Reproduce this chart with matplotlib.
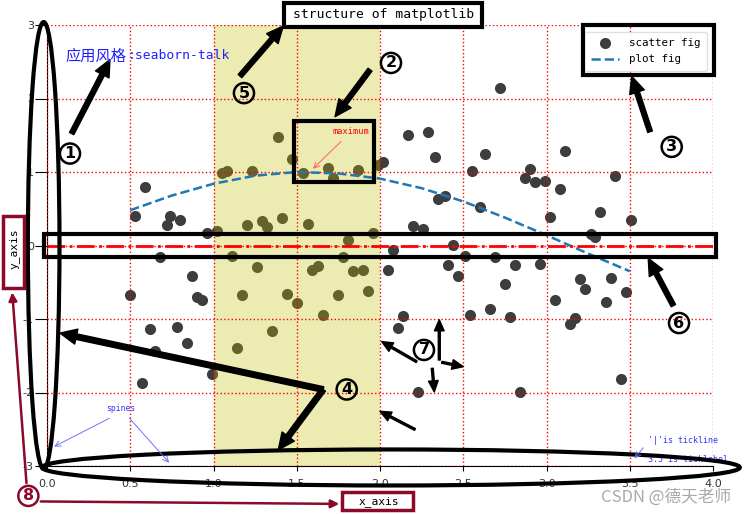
import matplotlib
matplotlib.use('Agg')
import matplotlib.pyplot as plt
from matplotlib.patches import Ellipse, Rectangle

# ---------------- data ----------------
scatter_x = [0.59, 0.53, 0.74, 0.72, 0.80, 0.96, 1.02, 1.05, 1.08, 1.23, 1.39, 1.47, 1.20, 1.29,
             1.32, 1.41, 0.68, 0.87, 0.50, 0.90, 0.93, 1.11, 1.26, 1.17, 1.44, 1.50, 0.62, 0.78,
             0.84, 0.65, 1.35, 1.14, 0.99, 0.57,
             1.54, 1.69, 1.72, 1.87, 1.99, 2.02, 2.17, 2.29, 2.33, 2.35, 2.39, 2.55, 1.57, 1.81,
             1.96, 1.78, 2.08, 2.20, 2.26, 2.44, 2.51, 2.41, 2.47, 1.59, 1.63, 1.84, 1.90, 2.05,
             1.75, 1.93, 1.66, 2.14, 2.11, 2.54, 2.23,
             2.72, 2.63, 2.90, 2.87, 2.93, 2.99, 3.11, 3.08, 3.41, 2.60, 3.02, 3.32, 3.51, 3.27,
             3.29, 2.69, 2.81, 2.96, 2.75, 3.20, 3.23, 3.39, 3.48, 3.05, 3.36, 2.66, 2.78, 3.17,
             3.14, 3.45, 2.84]
scatter_y = [0.79, 0.40, 0.40, 0.28, 0.35, 0.17, 0.20, 0.98, 1.02, 1.01, 1.48, 1.18, 0.28, 0.33,
             0.25, 0.37, -0.16, -0.42, -0.68, -0.70, -0.74, -0.14, -0.29, -0.68, -0.66, -0.78, -1.13, -1.11,
             -1.32, -1.43, -1.17, -1.39, -1.75, -1.87,
             0.98, 1.05, 0.92, 1.03, 1.09, 1.14, 1.51, 1.55, 1.21, 0.63, 0.68, 1.01, 0.29, 0.07,
             0.17, -0.15, -0.06, 0.27, 0.23, 0.01, -0.14, -0.26, -0.42, -0.33, -0.28, -0.35, -0.34, -0.34,
             -0.67, -0.62, -0.94, -0.96, -1.12, -0.94, -1.99,
             2.14, 1.24, 1.04, 0.92, 0.87, 0.88, 1.28, 0.77, 0.95, 0.52, 0.39, 0.46, 0.35, 0.15,
             0.12, -0.16, -0.27, -0.25, -0.52, -0.45, -0.59, -0.44, -0.63, -0.74, -0.77, -0.86, -0.97, -0.99,
             -1.07, -1.81, -1.99]

curve_x = [0.50, 0.75, 1.00, 1.25, 1.50, 1.75, 2.00, 2.25, 2.50, 2.75, 3.00, 3.25, 3.50]
curve_y = [0.48, 0.68, 0.84, 0.95, 1.00, 0.98, 0.91, 0.78, 0.60, 0.38, 0.14, -0.11, -0.35]

x_ticks = [0.0, 0.5, 1.0, 1.5, 2.0, 2.5, 3.0, 3.5, 4.0]
x_tick_labels = ['0.0', '0.5', '1.0', '1.5', '2.0', '2.5', '3.0', '3.5', '4.0']
y_ticks = [-3, -2, -1, 0, 1, 2, 3]
y_tick_labels = ['-3', '-2', '-1', '0', '1', '2', '3']
legend_labels = ['scatter fig', 'plot fig']
title_text = 'structure of matplotlib'
x_label = 'x_axis'
y_label = 'y_axis'

MONO = ['DejaVu Sans Mono', 'Noto Sans CJK SC']
CJK = ['Noto Sans CJK SC', 'DejaVu Sans']
MAROON = '#8b0a2a'
plt.rcParams['font.family'] = ['DejaVu Sans', 'Noto Sans CJK SC']

fig = plt.figure(figsize=(7.46, 5.14), dpi=100)
ax = fig.add_axes([47 / 746, 48 / 514, 666 / 746, 441 / 514])
ax.set_xlim(0, 4)
ax.set_ylim(-3, 3)

ax.scatter(scatter_x, scatter_y, s=64, color='#3d3d3d', linewidths=0, zorder=2,
           label=legend_labels[0])
ax.axvspan(1, 2, color='y', alpha=0.3, lw=0, zorder=2.2)
ax.plot(curve_x, curve_y, ls='--', color='#1f77b4', lw=1.8, zorder=3, label=legend_labels[1])
ax.axhline(0, color='red', ls='-.', lw=2, zorder=3)

ax.grid(True, color='red', ls=':', lw=1)
ax.set_axisbelow(False)
for s in ['top', 'right']:
    ax.spines[s].set_visible(False)
ax.set_xticks(x_ticks)
ax.set_xticklabels(x_tick_labels)
ax.set_yticks(y_ticks)
ax.set_yticklabels(y_tick_labels)
ax.tick_params(axis='x', length=3.5, pad=6, labelsize=8, labelcolor='#333333')
ax.tick_params(axis='y', length=8.5, pad=1, labelsize=8, labelcolor='#333333')

leg = ax.legend(loc='upper right', prop={'family': 'DejaVu Sans Mono', 'size': 7.8},
                borderaxespad=0.6, borderpad=0.6, handlelength=2.6, handletextpad=0.9,
                labelspacing=0.6, framealpha=0.9, edgecolor='#dddddd')
leg.set_zorder(8)

# ---------------- annotations ----------------
def rect(x0, y0, x1, y1, color='black', lw=3):
    ax.add_patch(Rectangle((x0, y0), x1 - x0, y1 - y0, fill=False, ec=color, lw=lw,
                           clip_on=False, zorder=10))

def circ_num(x, y, s, color='black'):
    ax.text(x, y, s, ha='center', va='center', fontsize=11.5, fontweight='bold', color=color,
            bbox=dict(boxstyle='circle,pad=0.16', fc='none', ec=color, lw=1.8),
            zorder=12, clip_on=False)

def arrow(tail, tip, w=3.5, hw=11, hl=12, color='black'):
    ax.annotate('', xy=tip, xytext=tail,
                arrowprops=dict(facecolor=color, edgecolor=color, width=w, headwidth=hw,
                                headlength=hl, shrink=0),
                annotation_clip=False, zorder=11)

def thin(tail, tip, color, lw=0.7):
    ax.annotate('', xy=tip, xytext=tail,
                arrowprops=dict(arrowstyle='->', color=color, lw=lw),
                annotation_clip=False, zorder=11)

# title box
rect(1.425, 2.973, 2.614, 3.305)
ax.text(2.020, 3.141, title_text, ha='center', va='center', family=MONO, fontsize=9.4,
        clip_on=False, zorder=12)

# style text
ax.text(0.108, 2.581, '应用风格', ha='left', va='center', family=CJK, fontsize=11,
        color='#2020ff', zorder=12)
ax.text(0.483, 2.581, ':seaborn-talk', ha='left', va='center', family=MONO, fontsize=9.4,
        color='#2020ff', zorder=12)

# ellipses
ax.add_patch(Ellipse((-0.02, 0.0), 0.19, 6.08, fill=False, ec='black', lw=3,
                     clip_on=False, zorder=10))
ax.add_patch(Ellipse((2.066, -3.02), 4.19, 0.49, fill=False, ec='black', lw=3,
                     clip_on=False, zorder=10))

# boxes
rect(1.483, 0.868, 1.964, 1.688)          # maximum box
rect(-0.02, -0.16, 4.02, 0.155)            # zero line box
rect(3.219, 2.319, 4.006, 3.004)           # legend box

# maximum
ax.text(1.826, 1.552, 'maximum', ha='center', va='center', family=MONO, fontsize=6.2,
        color='red', zorder=12)
thin((1.778, 1.443), (1.586, 1.018), '#ff6060')

# spines
ax.text(0.444, -2.215, 'spines', ha='center', va='center', family=MONO, fontsize=5.8,
        color='#3333ff', zorder=12)
thin((0.389, -2.334), (0.028, -2.753), '#7070ff')
thin((0.485, -2.325), (0.745, -2.984), '#7070ff')

# tick notes
ax.text(3.610, -2.653, "'|'is tickline", ha='left', va='center', family=MONO, fontsize=6,
        color='#3333ff', zorder=12, clip_on=False)
ax.text(3.610, -2.914, "3.5 is ticklabel", ha='left', va='center', family=MONO, fontsize=6,
        color='#3333ff', zorder=9, clip_on=False)
thin((3.592, -2.722), (3.518, -2.927), '#7070ff')

# thick arrows
arrow((0.148, 1.523), (0.378, 2.529))
arrow((1.159, 2.305), (1.419, 2.986))
arrow((1.940, 2.392), (1.730, 1.753))
arrow((3.622, 1.548), (3.512, 2.301))
arrow((3.762, -0.818), (3.611, -0.174))
arrow((1.659, -1.959), (0.078, -1.192), w=4)
arrow((1.659, -1.959), (1.389, -2.781), w=4)

# thin black arrows (7)
for tail, tip in [((2.210, -2.503), (2.0, -2.256)),
                  ((2.220, -1.581), (2.010, -1.307)),
                  ((2.356, -1.558), (2.356, -1.010)),
                  ((2.371, -1.589), (2.500, -1.649)),
                  ((2.314, -1.671), (2.326, -1.992))]:
    arrow(tail, tip, w=1.4, hw=7, hl=8)

# circled numbers
circ_num(0.138, 1.251, '1')
circ_num(2.066, 2.484, '2')
circ_num(3.752, 1.342, '3')
circ_num(1.800, -1.959, '4')
circ_num(1.183, 2.073, '5')
circ_num(3.796, -1.055, '6')
circ_num(2.264, -1.421, '7')
circ_num(-0.112, -3.407, '8', color=MAROON)

# axis label boxes
rect(-0.264, -0.574, -0.138, 0.401, color=MAROON, lw=2.5)
ax.text(-0.201, -0.05, y_label, rotation=90, ha='center', va='center', family=MONO,
        fontsize=8.1, clip_on=False, zorder=12)
rect(1.772, -3.600, 2.198, -3.353, color=MAROON, lw=2.5)
ax.text(1.99, -3.477, x_label, ha='center', va='center', family=MONO, fontsize=8.1,
        clip_on=False, zorder=12)

# maroon pointers from 8
ax.annotate('', xy=(-0.210, -0.60), xytext=(-0.122, -3.27),
            arrowprops=dict(arrowstyle='-|>', color=MAROON, lw=1.8, mutation_scale=12),
            annotation_clip=False, zorder=11)
ax.annotate('', xy=(1.772, -3.516), xytext=(-0.054, -3.482),
            arrowprops=dict(arrowstyle='-|>', color=MAROON, lw=1.8, mutation_scale=12),
            annotation_clip=False, zorder=11)

# watermark
ax.text(4.11, -3.42, 'CSDN @德天老师', ha='right', va='center', family=CJK, fontsize=12,
        color='#a0a0a0', alpha=0.9, clip_on=False, zorder=13)

fig.savefig('out.png', dpi=100)
